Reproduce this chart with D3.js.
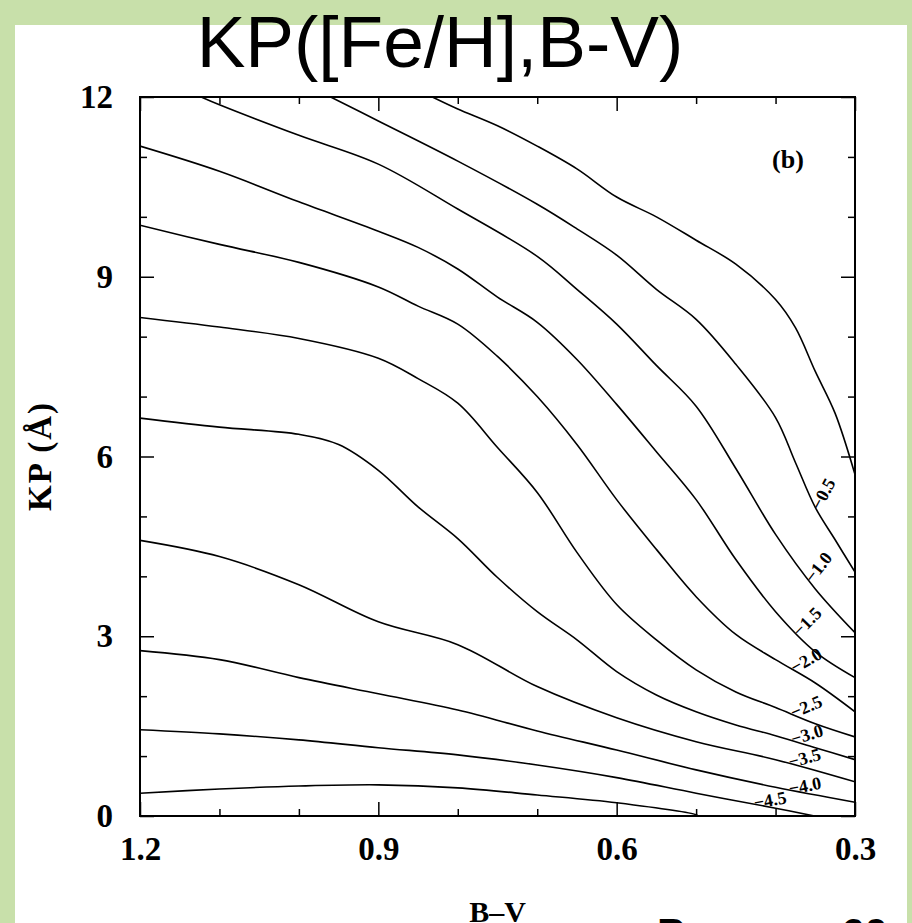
<!DOCTYPE html>
<html>
<head>
<meta charset="utf-8">
<script src="https://cdn.jsdelivr.net/npm/d3@7"></script>
<style>
  html, body { margin: 0; padding: 0; background: #c8e0aa; overflow: hidden; }
  svg { display: block; }
</style>
</head>
<body>
<svg id="fig" width="912" height="923"></svg>
<script>
// ---- axis ticks ----
const bvMajor = [1.2, 0.9, 0.6, 0.3];
const bvMinor = [1.1, 1.0, 0.8, 0.7, 0.5, 0.4];
const kpMajor = [0, 3, 6, 9, 12];
const kpMinor = [1, 2, 4, 5, 7, 8, 10, 11];

// ---- iso-[Fe/H] curves of KP versus B-V, points as [B-V, KP] ----
const fehP00 = [[0.832,12.0],[0.8,11.80],[0.75,11.52],[0.7,11.18],[0.65,10.80],[0.6,10.33],[0.55,10.0],[0.5,9.61],[0.45,9.21],[0.4,8.62],[0.375,8.15],[0.35,7.42],[0.325,6.72],[0.3,5.7]];
const fehM05 = [[0.96,12.0],[0.9,11.6],[0.8,10.93],[0.7,10.21],[0.65,9.8],[0.6,9.36],[0.55,8.79],[0.5,8.29],[0.45,7.54],[0.4,6.65],[0.375,5.9],[0.35,5.15],[0.325,4.61],[0.3,4.07]];
const fehM10 = [[1.123,12.0],[1.1,11.87],[1.0,11.36],[0.9,10.88],[0.8,10.13],[0.7,9.34],[0.65,8.79],[0.6,8.21],[0.55,7.52],[0.5,6.84],[0.45,5.80],[0.4,4.70],[0.35,3.79],[0.3,3.06]];
const fehM15 = [[1.2,11.18],[1.1,10.76],[1.0,10.25],[0.9,9.76],[0.85,9.49],[0.8,9.13],[0.75,8.66],[0.7,8.24],[0.65,7.62],[0.6,6.87],[0.55,6.08],[0.5,5.28],[0.45,4.28],[0.4,3.41],[0.35,2.74],[0.3,2.31]];
const fehM20 = [[1.2,9.86],[1.1,9.54],[1.0,9.24],[0.9,8.83],[0.85,8.51],[0.8,8.21],[0.75,7.67],[0.7,7.0],[0.65,6.2],[0.6,5.28],[0.55,4.45],[0.5,3.66],[0.45,3.03],[0.4,2.61],[0.35,2.22],[0.3,1.74]];
const fehM25 = [[1.2,8.32],[1.1,8.16],[1.0,7.97],[0.9,7.64],[0.85,7.30],[0.8,6.89],[0.75,6.15],[0.7,5.40],[0.65,4.40],[0.6,3.53],[0.55,2.94],[0.5,2.44],[0.45,2.07],[0.4,1.81],[0.35,1.54],[0.3,1.32]];
const fehM30 = [[1.2,6.64],[1.1,6.49],[1.0,6.37],[0.95,6.2],[0.9,5.77],[0.85,5.16],[0.8,4.63],[0.75,3.98],[0.7,3.41],[0.65,2.94],[0.6,2.41],[0.55,2.02],[0.5,1.74],[0.45,1.52],[0.4,1.34],[0.35,1.14],[0.3,0.94]];
const fehM35 = [[1.2,4.60],[1.1,4.33],[1.0,3.86],[0.9,3.24],[0.8,2.86],[0.7,2.16],[0.6,1.64],[0.5,1.24],[0.4,0.94],[0.3,0.57]];
const fehM40 = [[1.2,2.76],[1.1,2.61],[1.0,2.31],[0.9,2.04],[0.8,1.77],[0.7,1.42],[0.6,1.10],[0.5,0.77],[0.4,0.48],[0.3,0.23]];
const fehM45 = [[1.2,1.44],[1.1,1.37],[1.0,1.27],[0.9,1.14],[0.8,1.02],[0.7,0.85],[0.6,0.64],[0.5,0.38],[0.4,0.13],[0.351,0.0]];
const fehM50 = [[1.2,0.38],[1.1,0.45],[1.0,0.50],[0.9,0.52],[0.8,0.47],[0.7,0.35],[0.6,0.22],[0.5,0.02],[0.498,0.0]];

const curves = [fehP00, fehM05, fehM10, fehM15, fehM20, fehM25, fehM30, fehM35, fehM40, fehM45, fehM50];
const curveLabels = [null, "\u22120.5", "\u22121.0", "\u22121.5", "\u22122.0", "\u22122.5", "\u22123.0", "\u22123.5", "\u22124.0", "\u22124.5", null];
// B-V at which each label is pinned to its curve
const labelAt = [null, 0.349, 0.358, 0.374, 0.379, 0.380, 0.380, 0.383, 0.383, 0.427, null];

// ---- layout ----
const W = 912, H = 923;
const plot = { left: 140, right: 855, top: 97, bottom: 816 };
const serif = "'Liberation Serif', 'Times New Roman', serif";
const sans = "'Liberation Sans', Arial, sans-serif";

const svg = d3.select("#fig");

// green backdrop with the white sheet on it
svg.append("rect").attr("width", W).attr("height", H).attr("fill", "#c8e0aa");
svg.append("rect").attr("x", 15).attr("y", 25).attr("width", 892).attr("height", H - 25).attr("fill", "#ffffff");

// slide title
svg.append("text")
  .attr("x", 440).attr("y", 67)
  .attr("text-anchor", "middle")
  .attr("font-family", sans)
  .attr("font-size", 73)
  .attr("fill", "#000")
  .text("KP([Fe/H],B-V)");

// slide caption, running off the bottom edge
svg.append("text")
  .attr("x", 657).attr("y", 948)
  .attr("font-family", sans).attr("font-weight", "bold")
  .attr("font-size", 42)
  .attr("fill", "#000")
  .text("Рисунок 60");

const x = d3.scaleLinear().domain([1.2, 0.3]).range([plot.left, plot.right]);
const y = d3.scaleLinear().domain([0, 12]).range([plot.bottom, plot.top]);

const g = svg.append("g");

// ---- axes: ticks point inward on all four sides ----
function styleAxis(sel) {
  sel.select(".domain").remove();
  sel.selectAll(".tick line").attr("stroke", "#000").attr("stroke-width", 1.5);
  sel.selectAll(".tick text")
    .attr("font-family", serif).attr("font-weight", "bold")
    .attr("font-size", 33).attr("fill", "#000");
}
const bigTick = 14, smallTick = 7;

g.append("g").attr("transform", `translate(0,${plot.bottom})`)
  .call(d3.axisBottom(x).tickValues(bvMajor).tickSize(-bigTick).tickPadding(21).tickFormat(d3.format(".1f")))
  .call(styleAxis);
g.append("g").attr("transform", `translate(0,${plot.bottom})`)
  .call(d3.axisBottom(x).tickValues(bvMinor).tickSize(-smallTick).tickFormat(""))
  .call(styleAxis);
g.append("g").attr("transform", `translate(0,${plot.top})`)
  .call(d3.axisTop(x).tickValues(bvMajor).tickSize(-bigTick).tickFormat(""))
  .call(styleAxis);
g.append("g").attr("transform", `translate(0,${plot.top})`)
  .call(d3.axisTop(x).tickValues(bvMinor).tickSize(-smallTick).tickFormat(""))
  .call(styleAxis);

g.append("g").attr("transform", `translate(${plot.left},0)`)
  .call(d3.axisLeft(y).tickValues(kpMajor).tickSize(-bigTick).tickPadding(27).tickFormat(d3.format("d")))
  .call(styleAxis);
g.append("g").attr("transform", `translate(${plot.left},0)`)
  .call(d3.axisLeft(y).tickValues(kpMinor).tickSize(-smallTick).tickFormat(""))
  .call(styleAxis);
g.append("g").attr("transform", `translate(${plot.right},0)`)
  .call(d3.axisRight(y).tickValues(kpMajor).tickSize(-bigTick).tickFormat(""))
  .call(styleAxis);
g.append("g").attr("transform", `translate(${plot.right},0)`)
  .call(d3.axisRight(y).tickValues(kpMinor).tickSize(-smallTick).tickFormat(""))
  .call(styleAxis);

// frame
g.append("rect")
  .attr("x", plot.left).attr("y", plot.top)
  .attr("width", plot.right - plot.left).attr("height", plot.bottom - plot.top)
  .attr("fill", "none").attr("stroke", "#000").attr("stroke-width", 2);

// axis titles
svg.append("text")
  .attr("transform", "translate(51,456) rotate(-90)")
  .attr("text-anchor", "middle")
  .attr("font-family", serif).attr("font-weight", "bold").attr("font-size", 33)
  .attr("letter-spacing", 2)
  .text("KP (\u00C5)");
svg.append("text")
  .attr("x", (plot.left + plot.right) / 2).attr("y", 922)
  .attr("text-anchor", "middle")
  .attr("font-family", serif).attr("font-weight", "bold").attr("font-size", 30)
  .text("B\u2013V");

// panel tag
svg.append("text")
  .attr("x", 788).attr("y", 168)
  .attr("text-anchor", "middle")
  .attr("font-family", serif).attr("font-weight", "bold").attr("font-size", 26)
  .text("(b)");

// ---- curves ----
svg.append("clipPath").attr("id", "plotClip")
  .append("rect")
  .attr("x", plot.left).attr("y", plot.top)
  .attr("width", plot.right - plot.left).attr("height", plot.bottom - plot.top);

const line = d3.line()
  .x(d => x(d[0]))
  .y(d => y(d[1]))
  .curve(d3.curveCatmullRom.alpha(0.5));

const paths = g.append("g").attr("clip-path", "url(#plotClip)")
  .selectAll("path")
  .data(curves)
  .join("path")
  .attr("d", line)
  .attr("fill", "none")
  .attr("stroke", "#000")
  .attr("stroke-width", 1.6);

// ---- contour labels, pinned on their curve ----
function pointAtX(node, px) {
  const len = node.getTotalLength();
  let lo = 0, hi = len;
  for (let i = 0; i < 40; i++) {
    const mid = (lo + hi) / 2;
    if (node.getPointAtLength(mid).x < px) lo = mid; else hi = mid;
  }
  const l = (lo + hi) / 2;
  const p = node.getPointAtLength(l);
  const a = node.getPointAtLength(Math.max(0, l - 4));
  const b = node.getPointAtLength(Math.min(len, l + 4));
  const ang = Math.atan2(b.y - a.y, b.x - a.x) * 180 / Math.PI;
  return { x: p.x, y: p.y, ang };
}

const labelGroup = g.append("g");
paths.each(function (d, i) {
  if (!curveLabels[i]) return;
  const p = pointAtX(this, x(labelAt[i]));
  labelGroup.append("text")
    .attr("transform", `translate(${p.x},${p.y}) rotate(${-p.ang})`)
    .attr("dy", "0.28em")
    .attr("font-family", serif).attr("font-weight", "bold").attr("font-size", 18)
    .attr("fill", "#000")
    .text(curveLabels[i]);
});
</script>
</body>
</html>
